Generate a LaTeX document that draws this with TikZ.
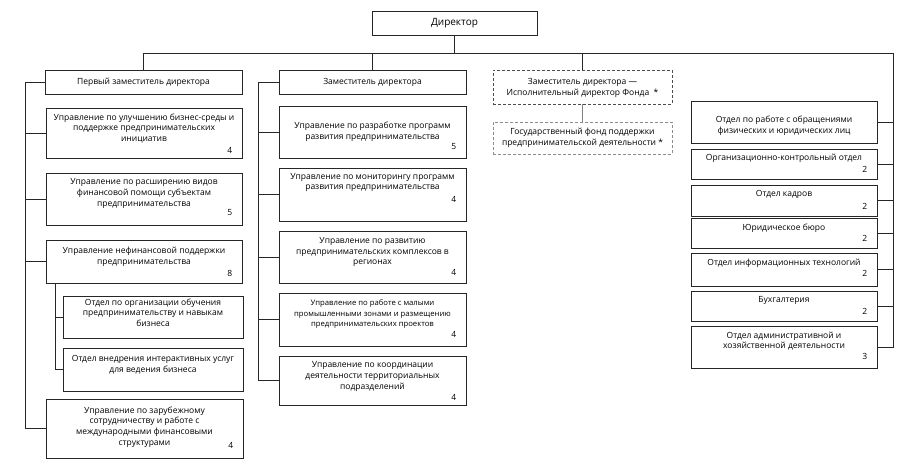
\documentclass[tikz,border=0pt]{standalone}
\usepackage{fontspec}
\setmainfont{Open Sans}
\usetikzlibrary{calc}
\tikzset{
  boxst/.style={draw=black!85, line width=0.95pt, rectangle, inner sep=0pt, fill=white},
  dashA/.style={draw=black!70, line width=0.95pt, dash pattern=on 3pt off 2pt, rectangle, inner sep=0pt, fill=white},
  dashB/.style={draw=black!45, line width=0.95pt, dash pattern=on 3pt off 2pt, rectangle, inner sep=0pt, fill=white},
  txt/.style={align=center, inner sep=0pt, text=black, font=\fontsize{8.5}{10.7}\selectfont},
  numst/.style={inner sep=0pt, text=black, font=\fontsize{8.5}{10.5}\selectfont},
  conn/.style={draw=black!85, line width=0.95pt},
}
\newcommand{\obox}[9]{%
  \node[boxst, minimum width={(#4-#2)*1pt}, minimum height={(#5-#3)*1pt}] (#1) at ({(#2+#4)/2},{(#3+#5)/2}) {};
  \node[txt] (#1t) at (#1.center |- 0,#6) {#7};
  \if\relax\detokenize{#9}\relax\else
  \node[numst, anchor=east, xshift=-10pt] (#1n) at (#1.east |- 0,#8) {#9};
  \fi
}
\begin{document}
\begin{tikzpicture}[x=1pt, y=-1pt]
\fill[white] (0,0) rectangle (908,466);
\useasboundingbox (0,0) rectangle (908,466);

% Director
\node[boxst, minimum width=165pt, minimum height=24pt] (Dir) at (454.5,23) {};
\node[txt, font=\fontsize{10}{12}\selectfont] (Dirt) at (Dir.center) {Директор};

% Left column
\obox{FD}{45}{70}{242}{94}{82}{Первый заместитель директора}{}{}
\obox{La}{46}{108}{242}{158}{128.5}{Управление по улучшению бизнес-среды и\\поддержке предпринимательских\\инициатив}{150}{4}
\obox{Lb}{46}{173}{242}{225}{193.5}{Управление по расширению видов\\финансовой помощи субъектам\\предпринимательства}{213}{5}
\obox{Lc}{46}{240}{242}{283}{256.5}{Управление нефинансовой поддержки\\предпринимательства}{273}{8}
\obox{Ld}{63}{296}{243}{338}{312.5}{Отдел по организации обучения\\предпринимательству и навыкам\\бизнеса}{}{}
\obox{Le}{63}{348}{243}{391}{364.5}{Отдел внедрения интерактивных услуг\\для ведения бизнеса}{}{}
\obox{Lf}{46}{399}{243}{458}{427}{Управление по зарубежному\\сотрудничеству и работе с\\международными финансовыми\\структурами}{445}{4}

% Middle column
\obox{MD}{279}{70}{466}{94}{82}{Заместитель директора}{}{}
\obox{Ma}{279}{106}{466}{158}{132}{Управление по разработке программ\\развития предпринимательства}{147}{5}
\obox{Mb}{279}{168}{466}{221}{182.5}{Управление по мониторингу программ\\развития предпринимательства}{199}{4}
\obox{Mc}{279}{231}{466}{283}{252}{Управление по развитию\\предпринимательских комплексов в\\регионах}{272}{4}
\obox{Md}{279}{293}{466}{346}{314}{\fontsize{7.7}{10.7}\selectfont Управление по работе с малыми\\\fontsize{7.7}{10.7}\selectfont промышленными зонами и размещению\\\fontsize{7.7}{10.7}\selectfont предпринимательских проектов}{334}{4}
\obox{Me}{279}{356}{466}{405}{376.5}{Управление по координации\\деятельности территориальных\\подразделений}{397}{4}

% Dashed boxes
\node[dashA, minimum width=179pt, minimum height=34pt] (DA) at (582.5,87) {};
\node[txt] (DAt) at (DA.center |- 0,88) {Заместитель директора —\\Исполнительный директор Фонда\ \ *};
\node[dashB, minimum width=179pt, minimum height=32pt] (DB) at (582.5,138) {};
\node[txt] (DBt) at (DB.center |- 0,137.5) {Государственный фонд поддержки\\предпринимательской деятельности *};

% Right column
\obox{Ra}{691}{101}{877}{143}{125.5}{Отдел по работе с обращениями\\физических и юридических лиц}{}{}
\obox{Rb}{691}{149}{877}{179}{158}{Организационно-контрольный отдел}{169}{2}
\obox{Rc}{691}{185}{877}{216}{194}{Отдел кадров}{206}{2}
\obox{Rd}{691}{218}{877}{248}{228}{Юридическое бюро}{238}{2}
\obox{Re}{691}{253}{877}{286}{263}{Отдел информационных технологий}{273}{2}
\obox{Rf}{691}{291}{877}{321}{300}{Бухгалтерия}{311}{2}
\obox{Rg}{691}{326}{877}{368}{341}{Отдел административной и\\хозяйственной деятельности}{356}{3}

% Connectors
\coordinate (RT) at (893,53);
\coordinate (LT) at (25,83);
\coordinate (MT) at (258,83);
\coordinate (ST) at (55,283);

\draw[conn] (Dir.south) -- (Dir.south |- RT);
\draw[conn] (FD.north) |- (RT) |- (Rg.east);
\draw[conn] (MD.north) -- (MD.north |- RT);
\draw[conn] (DA.north) -- (DA.north |- RT);
\foreach \n in {Ra,Rb,Rc,Rd,Re,Rf} {\draw[conn] (\n.east) -- (\n.east -| RT);}

\draw[conn] (FD.west) -- (FD.west -| LT) |- (Lf.west);
\foreach \n in {La,Lb,Lc} {\draw[conn] (\n.west) -- (\n.west -| LT);}
\draw[conn] (Lc.south -| ST) |- (Le.west);
\draw[conn] (Ld.west) -- (Ld.west -| ST);

\draw[conn] (MD.west) -- (MD.west -| MT) |- (Me.west);
\foreach \n in {Ma,Mb,Mc,Md} {\draw[conn] (\n.west) -- (\n.west -| MT);}

\draw[draw=black!50, line width=1.6pt] (DA.south) -- (DB.north);
\end{tikzpicture}
\end{document}
